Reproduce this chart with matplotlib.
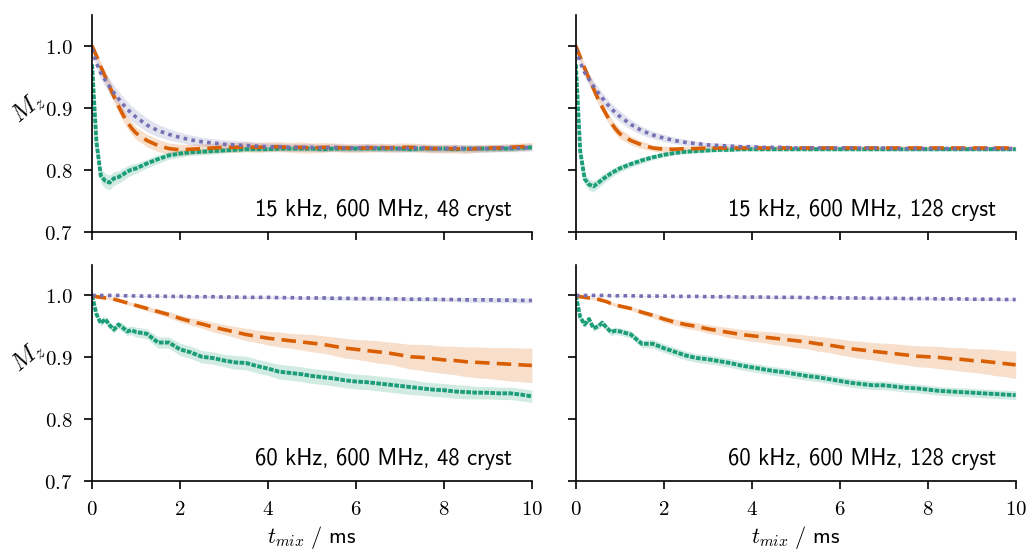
import numpy as np
import matplotlib
matplotlib.use("Agg")
import matplotlib.pyplot as plt
from matplotlib.ticker import FuncFormatter

plt.rcParams["mathtext.fontset"] = "cm"

# mixing times (ms)
t_mix = [0.0, 0.1, 0.2, 0.3, 0.4, 0.5, 0.6, 0.7, 0.8, 0.9, 1.0,
         1.25, 1.5, 1.75, 2.0, 2.25, 2.5, 2.75, 3.0, 3.25, 3.5, 3.75, 4.0,
         4.25, 4.5, 4.75, 5.0, 5.25, 5.5, 5.75, 6.0, 6.25, 6.5, 6.75, 7.0,
         7.25, 7.5, 7.75, 8.0, 8.25, 8.5, 8.75, 9.0, 9.25, 9.5, 9.75, 10.0]

titles = ["15 kHz, 600 MHz, 48 cryst", "15 kHz, 600 MHz, 128 cryst",
          "60 kHz, 600 MHz, 48 cryst", "60 kHz, 600 MHz, 128 cryst"]

# ---- 15 kHz, 48 cryst
a_purple = [0.995, 0.972, 0.956, 0.945, 0.934, 0.924, 0.915, 0.906, 0.898, 0.891, 0.885,
            0.872, 0.863, 0.857, 0.852, 0.848, 0.845, 0.843, 0.841, 0.840, 0.839, 0.838, 0.837,
            0.837, 0.836, 0.836, 0.836, 0.835, 0.836, 0.835, 0.835, 0.836, 0.835, 0.835, 0.834,
            0.835, 0.835, 0.834, 0.834, 0.835, 0.834, 0.834, 0.834, 0.835, 0.835, 0.835, 0.836]
a_orange = [1.000, 0.984, 0.966, 0.950, 0.934, 0.918, 0.903, 0.889, 0.877, 0.867, 0.859,
            0.847, 0.839, 0.834, 0.832, 0.833, 0.834, 0.835, 0.836, 0.836, 0.837, 0.836, 0.837,
            0.837, 0.836, 0.836, 0.835, 0.836, 0.836, 0.835, 0.835, 0.835, 0.836, 0.835, 0.836,
            0.836, 0.835, 0.834, 0.834, 0.834, 0.833, 0.834, 0.835, 0.835, 0.836, 0.837, 0.838]
a_green = [0.970, 0.845, 0.790, 0.782, 0.779, 0.786, 0.788, 0.792, 0.797, 0.800, 0.802,
           0.810, 0.817, 0.823, 0.826, 0.828, 0.829, 0.830, 0.831, 0.832, 0.833, 0.833, 0.833,
           0.834, 0.834, 0.834, 0.834, 0.833, 0.834, 0.834, 0.834, 0.834, 0.834, 0.834, 0.834,
           0.833, 0.834, 0.834, 0.834, 0.833, 0.834, 0.834, 0.834, 0.834, 0.834, 0.835, 0.836]
a_purple_err = [0.004, 0.008, 0.010, 0.011, 0.012, 0.012, 0.012, 0.012, 0.012, 0.012, 0.012,
                0.011, 0.010, 0.009, 0.008, 0.008, 0.007, 0.007, 0.007, 0.007, 0.007, 0.006, 0.006,
                0.006, 0.006, 0.006, 0.006, 0.006, 0.006, 0.006, 0.006, 0.006, 0.006, 0.006, 0.006,
                0.006, 0.006, 0.006, 0.006, 0.006, 0.006, 0.006, 0.006, 0.006, 0.006, 0.006, 0.006]
a_orange_err = [0.002, 0.006, 0.008, 0.009, 0.010, 0.010, 0.010, 0.010, 0.010, 0.010, 0.010,
                0.010, 0.010, 0.009, 0.009, 0.008, 0.008, 0.008, 0.008, 0.008, 0.008, 0.008, 0.008,
                0.008, 0.008, 0.009, 0.008, 0.008, 0.007, 0.007, 0.007, 0.007, 0.007, 0.007, 0.007,
                0.007, 0.007, 0.007, 0.007, 0.007, 0.007, 0.006, 0.006, 0.006, 0.006, 0.006, 0.006]
a_green_err = [0.006, 0.012, 0.012, 0.012, 0.012, 0.011, 0.010, 0.010, 0.009, 0.009, 0.008,
               0.007, 0.007, 0.006, 0.006, 0.005, 0.005, 0.005, 0.004, 0.004, 0.004, 0.004, 0.004,
               0.004, 0.004, 0.004, 0.004, 0.004, 0.004, 0.004, 0.004, 0.004, 0.004, 0.004, 0.004,
               0.004, 0.004, 0.004, 0.004, 0.004, 0.004, 0.004, 0.004, 0.004, 0.004, 0.004, 0.004]

# ---- 15 kHz, 128 cryst
b_purple = [0.995, 0.973, 0.957, 0.946, 0.935, 0.925, 0.916, 0.907, 0.899, 0.892, 0.886,
            0.873, 0.863, 0.856, 0.851, 0.847, 0.844, 0.842, 0.840, 0.839, 0.838, 0.837, 0.837,
            0.836, 0.836, 0.836, 0.835, 0.835, 0.835, 0.835, 0.835, 0.835, 0.835, 0.835, 0.835,
            0.834, 0.834, 0.834, 0.834, 0.834, 0.834, 0.834, 0.834, 0.834, 0.834, 0.834, 0.834]
b_orange = [1.000, 0.982, 0.964, 0.947, 0.931, 0.915, 0.901, 0.888, 0.876, 0.866, 0.858,
            0.847, 0.840, 0.835, 0.833, 0.833, 0.834, 0.834, 0.835, 0.835, 0.835, 0.835, 0.835,
            0.835, 0.835, 0.835, 0.835, 0.835, 0.835, 0.835, 0.835, 0.835, 0.835, 0.835, 0.835,
            0.835, 0.835, 0.835, 0.835, 0.835, 0.835, 0.835, 0.835, 0.835, 0.835, 0.835, 0.835]
b_green = [0.970, 0.830, 0.785, 0.776, 0.773, 0.778, 0.784, 0.789, 0.794, 0.798, 0.802,
           0.809, 0.815, 0.820, 0.824, 0.827, 0.829, 0.830, 0.831, 0.832, 0.832, 0.833, 0.833,
           0.833, 0.833, 0.833, 0.833, 0.833, 0.833, 0.833, 0.833, 0.833, 0.833, 0.833, 0.833,
           0.833, 0.833, 0.833, 0.833, 0.833, 0.833, 0.833, 0.833, 0.833, 0.833, 0.833, 0.833]
b_purple_err = [0.003, 0.006, 0.008, 0.009, 0.009, 0.009, 0.009, 0.009, 0.009, 0.009, 0.009,
                0.008, 0.007, 0.006, 0.006, 0.005, 0.005, 0.004, 0.004, 0.004, 0.004, 0.004, 0.004,
                0.003, 0.003, 0.003, 0.003, 0.003, 0.003, 0.003, 0.003, 0.003, 0.003, 0.003, 0.003,
                0.003, 0.003, 0.003, 0.003, 0.003, 0.003, 0.003, 0.003, 0.003, 0.003, 0.003, 0.003]
b_orange_err = [0.002, 0.005, 0.007, 0.008, 0.008, 0.008, 0.008, 0.008, 0.008, 0.008, 0.008,
                0.007, 0.006, 0.005, 0.005, 0.004, 0.004, 0.004, 0.004, 0.003, 0.003, 0.003, 0.003,
                0.003, 0.003, 0.003, 0.003, 0.003, 0.003, 0.003, 0.003, 0.003, 0.003, 0.003, 0.003,
                0.003, 0.003, 0.003, 0.003, 0.003, 0.003, 0.003, 0.003, 0.003, 0.003, 0.003, 0.003]
b_green_err = [0.005, 0.009, 0.009, 0.009, 0.009, 0.008, 0.008, 0.007, 0.007, 0.006, 0.006,
               0.005, 0.005, 0.004, 0.004, 0.003, 0.003, 0.003, 0.003, 0.003, 0.003, 0.003, 0.003,
               0.003, 0.003, 0.003, 0.003, 0.003, 0.003, 0.003, 0.003, 0.003, 0.003, 0.003, 0.003,
               0.003, 0.003, 0.003, 0.003, 0.003, 0.003, 0.003, 0.003, 0.003, 0.003, 0.003, 0.003]

# ---- 60 kHz, 48 cryst
c_purple = [1.000, 1.000, 1.000, 1.000, 1.000, 1.000, 1.000, 0.9995, 0.9995, 0.9995, 0.999,
            0.999, 0.999, 0.9985, 0.9985, 0.998, 0.998, 0.998, 0.9975, 0.9975, 0.997, 0.997, 0.997,
            0.9965, 0.9965, 0.996, 0.996, 0.996, 0.9955, 0.9955, 0.995, 0.995, 0.995, 0.9945, 0.9945,
            0.994, 0.994, 0.994, 0.9935, 0.9935, 0.993, 0.993, 0.993, 0.9925, 0.9925, 0.992, 0.992]
c_orange = [1.000, 0.998, 0.997, 0.996, 0.995, 0.994, 0.992, 0.990, 0.988, 0.986, 0.984,
            0.979, 0.974, 0.969, 0.963, 0.958, 0.954, 0.949, 0.945, 0.941, 0.937, 0.934, 0.931,
            0.929, 0.927, 0.925, 0.923, 0.921, 0.918, 0.915, 0.913, 0.911, 0.909, 0.907, 0.904,
            0.901, 0.900, 0.898, 0.896, 0.895, 0.893, 0.892, 0.891, 0.890, 0.889, 0.888, 0.887]
c_green = [1.000, 0.970, 0.955, 0.962, 0.952, 0.945, 0.953, 0.948, 0.942, 0.944, 0.941,
           0.938, 0.924, 0.924, 0.913, 0.908, 0.901, 0.899, 0.895, 0.892, 0.891, 0.886, 0.882,
           0.877, 0.875, 0.873, 0.870, 0.868, 0.866, 0.863, 0.861, 0.860, 0.858, 0.856, 0.854,
           0.852, 0.850, 0.848, 0.847, 0.845, 0.844, 0.843, 0.843, 0.842, 0.842, 0.840, 0.837]
c_purple_err = [0.000, 0.001, 0.001, 0.001, 0.001, 0.001, 0.001, 0.001, 0.001, 0.001, 0.001,
                0.001, 0.001, 0.001, 0.002, 0.002, 0.002, 0.002, 0.002, 0.002, 0.002, 0.002, 0.002,
                0.002, 0.002, 0.002, 0.002, 0.003, 0.003, 0.003, 0.003, 0.003, 0.003, 0.003, 0.003,
                0.003, 0.003, 0.003, 0.003, 0.003, 0.004, 0.004, 0.004, 0.004, 0.004, 0.004, 0.004]
c_orange_err = [0.000, 0.001, 0.001, 0.001, 0.002, 0.002, 0.002, 0.002, 0.003, 0.003, 0.003,
                0.004, 0.004, 0.005, 0.006, 0.006, 0.007, 0.008, 0.008, 0.009, 0.010, 0.010, 0.011,
                0.012, 0.012, 0.013, 0.014, 0.014, 0.015, 0.016, 0.016, 0.017, 0.018, 0.018, 0.019,
                0.020, 0.021, 0.022, 0.022, 0.023, 0.024, 0.025, 0.025, 0.026, 0.027, 0.027, 0.028]
c_green_err = [0.000, 0.004, 0.005, 0.005, 0.006, 0.006, 0.006, 0.007, 0.007, 0.007, 0.008,
               0.008, 0.009, 0.009, 0.010, 0.010, 0.010, 0.010, 0.010, 0.011, 0.011, 0.011, 0.011,
               0.012, 0.012, 0.012, 0.012, 0.012, 0.012, 0.012, 0.012, 0.012, 0.012, 0.012, 0.012,
               0.012, 0.011, 0.011, 0.011, 0.011, 0.011, 0.010, 0.010, 0.010, 0.010, 0.010, 0.010]

# ---- 60 kHz, 128 cryst
d_purple = [1.000, 1.000, 1.000, 1.000, 1.000, 1.000, 1.000, 1.000, 0.9995, 0.9995, 0.9995,
            0.9995, 0.999, 0.999, 0.999, 0.9985, 0.9985, 0.9985, 0.998, 0.998, 0.998, 0.9975, 0.9975,
            0.9975, 0.997, 0.997, 0.997, 0.9965, 0.9965, 0.9965, 0.996, 0.996, 0.996, 0.9955, 0.9955,
            0.9955, 0.995, 0.995, 0.995, 0.9945, 0.9945, 0.9945, 0.994, 0.994, 0.994, 0.9935, 0.9935]
d_orange = [1.000, 0.998, 0.997, 0.996, 0.995, 0.994, 0.992, 0.990, 0.987, 0.985, 0.983,
            0.979, 0.973, 0.968, 0.962, 0.957, 0.953, 0.950, 0.946, 0.943, 0.940, 0.937, 0.935,
            0.933, 0.931, 0.929, 0.927, 0.925, 0.922, 0.920, 0.917, 0.914, 0.912, 0.910, 0.908,
            0.906, 0.904, 0.902, 0.901, 0.900, 0.898, 0.897, 0.895, 0.894, 0.892, 0.890, 0.888]
d_green = [1.000, 0.965, 0.953, 0.962, 0.947, 0.950, 0.956, 0.948, 0.941, 0.943, 0.942,
           0.937, 0.922, 0.922, 0.915, 0.909, 0.903, 0.899, 0.897, 0.894, 0.891, 0.887, 0.884,
           0.881, 0.878, 0.876, 0.873, 0.870, 0.868, 0.865, 0.862, 0.859, 0.857, 0.855, 0.855,
           0.853, 0.851, 0.850, 0.848, 0.846, 0.845, 0.844, 0.843, 0.842, 0.841, 0.840, 0.839]
d_purple_err = [0.000, 0.001, 0.001, 0.001, 0.001, 0.001, 0.001, 0.001, 0.001, 0.001, 0.001,
                0.001, 0.001, 0.001, 0.001, 0.001, 0.001, 0.001, 0.001, 0.002, 0.002, 0.002, 0.002,
                0.002, 0.002, 0.002, 0.002, 0.002, 0.002, 0.002, 0.002, 0.002, 0.002, 0.002, 0.002,
                0.002, 0.002, 0.002, 0.002, 0.002, 0.002, 0.002, 0.002, 0.002, 0.002, 0.002, 0.002]
d_orange_err = [0.000, 0.001, 0.001, 0.001, 0.002, 0.002, 0.002, 0.002, 0.003, 0.003, 0.003,
                0.003, 0.004, 0.004, 0.005, 0.005, 0.006, 0.006, 0.007, 0.007, 0.008, 0.008, 0.009,
                0.009, 0.010, 0.010, 0.011, 0.011, 0.012, 0.012, 0.013, 0.013, 0.014, 0.014, 0.015,
                0.016, 0.016, 0.017, 0.017, 0.018, 0.018, 0.019, 0.019, 0.020, 0.021, 0.021, 0.022]
d_green_err = [0.000, 0.003, 0.004, 0.004, 0.005, 0.005, 0.005, 0.005, 0.006, 0.006, 0.006,
               0.006, 0.006, 0.007, 0.007, 0.007, 0.007, 0.007, 0.007, 0.007, 0.007, 0.007, 0.007,
               0.007, 0.007, 0.007, 0.007, 0.007, 0.007, 0.007, 0.007, 0.007, 0.007, 0.007, 0.007,
               0.007, 0.007, 0.007, 0.007, 0.007, 0.007, 0.007, 0.007, 0.007, 0.007, 0.007, 0.007]

panels = [
    (a_green, a_green_err, a_orange, a_orange_err, a_purple, a_purple_err),
    (b_green, b_green_err, b_orange, b_orange_err, b_purple, b_purple_err),
    (c_green, c_green_err, c_orange, c_orange_err, c_purple, c_purple_err),
    (d_green, d_green_err, d_orange, d_orange_err, d_purple, d_purple_err),
]

green = "#1b9e77"
orange = "#d95f02"
purple = "#7570b3"

fig, axes = plt.subplots(2, 2, figsize=(10.28, 5.5), dpi=100, sharex=True, sharey=True)
plt.subplots_adjust(left=0.0895, right=0.988, top=0.973, bottom=0.125, wspace=0.1, hspace=0.152)

t = np.array(t_mix)
for ax, title, (g, ge, o, oe, p, pe) in zip(axes.flat, titles, panels):
    for y, e, c in [(g, ge, green), (o, oe, orange), (p, pe, purple)]:
        y = np.array(y)
        e = np.array(e)
        ax.fill_between(t, y - e, y + e, color=c, alpha=0.2, lw=0)
    ax.plot(t, g, color=green, lw=2.8, ls=(0, (1.2, 0.35)))
    ax.plot(t, o, color=orange, lw=2.6, ls=(0, (4, 2)))
    ax.plot(t, p, color=purple, lw=2.6, ls=(0, (1, 1.2)))
    ax.text(0.955, 0.05, title, transform=ax.transAxes, ha="right", va="bottom",
            fontsize=16.3, family=["cmss10", "DejaVu Sans"])
    ax.spines["top"].set_visible(False)
    ax.spines["right"].set_visible(False)
    ax.spines["left"].set_linewidth(1.2)
    ax.spines["bottom"].set_linewidth(1.2)
    ax.tick_params(direction="out", length=6, width=1.2, labelsize=15)
    ax.tick_params(axis="y", pad=8)
    ax.tick_params(axis="x", pad=7)

ax0 = axes[0, 0]
ax0.set_xlim(0, 10)
ax0.set_ylim(0.7, 1.05)
ax0.set_xticks([0, 2, 4, 6, 8, 10])
ax0.set_yticks([0.7, 0.8, 0.9, 1.0])
ax0.xaxis.set_major_formatter(FuncFormatter(lambda v, pos: "$%d$" % v))
ax0.yaxis.set_major_formatter(FuncFormatter(lambda v, pos: "$%.1f$" % v))

for ax in axes[:, 0]:
    ax.set_ylabel("$M_z$", fontsize=18, rotation=40, ha="center", va="center")
    ax.yaxis.set_label_coords(-0.145, 0.57)
for ax in axes[1, :]:
    ax.set_xlabel(r"$t_{mix}\ /\ \mathsf{ms}$", fontsize=16, va="center")
    ax.xaxis.set_label_coords(0.5, -0.26)

plt.savefig("out.png", dpi=100)
